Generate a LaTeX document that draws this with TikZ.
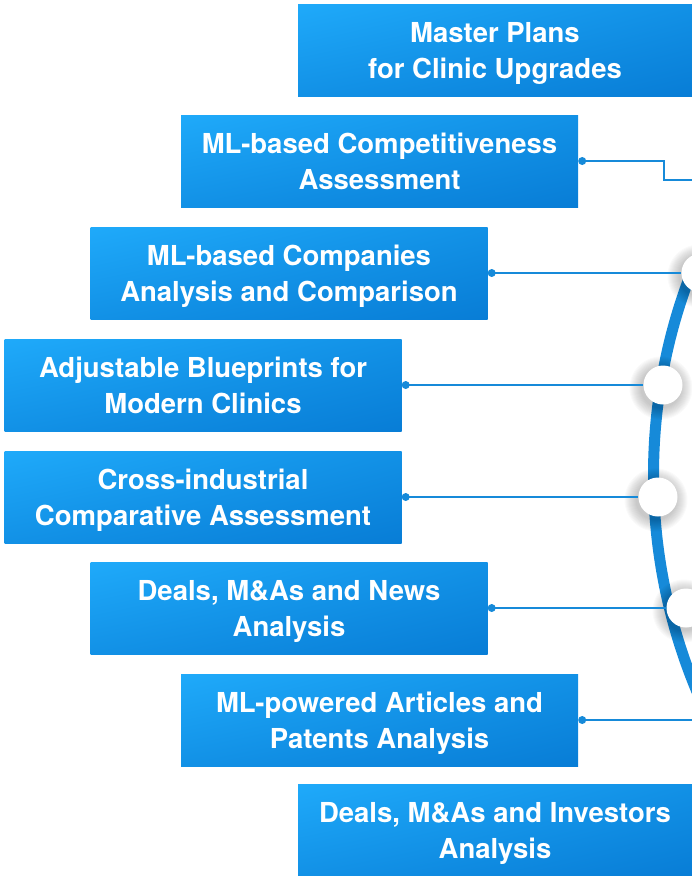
\documentclass[tikz,border=0pt]{standalone}
\usepackage{fontspec}
\setmainfont{TeX Gyre Heros}
\usetikzlibrary{calc,shadings}
\definecolor{lite}{RGB}{31,170,250}
\definecolor{mid}{RGB}{18,145,230}
\definecolor{dark}{RGB}{8,125,214}
\definecolor{arcblue}{RGB}{22,138,217}
\tikzset{
  box/.style={rectangle, shade, minimum width=397pt, minimum height=92pt, inner sep=0pt,
    upper left=lite, upper right=mid, lower left=mid, lower right=dark,
    text=white, font=\fontsize{27.5}{36}\selectfont\bfseries, align=center,
    text height=56pt, text depth=0pt},
  conn/.style={draw=arcblue, line width=2pt},
  dotc/.style={circle, fill=arcblue, inner sep=0pt, minimum size=8pt},
  knob/.style={circle, fill=white, inner sep=0pt, minimum size=39pt},
}
\begin{document}
\begin{tikzpicture}[x=1pt,y=-1pt]
\useasboundingbox (0,0) rectangle (692,876);
\clip (0,0) rectangle (692,876);
% boxes
\node[box, minimum width=394pt] (b1) at (495,50) {Master Plans\\for Clinic Upgrades};
\node[box] (b2) at (379.5,161) {ML-based Competitiveness\\Assessment};
\node[box] (b3) at (289,273) {ML-based Companies\\Analysis and Comparison};
\node[box] (b4) at (203,385) {Adjustable Blueprints for\\Modern Clinics};
\node[box] (b5) at (203,497) {Cross-industrial\\Comparative Assessment};
\node[box] (b6) at (289,608) {Deals, M\&As and News\\Analysis};
\node[box] (b7) at (379.5,720) {ML-powered Articles and\\Patents Analysis};
\node[box, minimum width=394pt] (b8) at (495,830) {Deals, M\&As and Investors\\Analysis};
% big arc
\draw[arcblue, line width=11pt] (1213.5,475) circle[radius=560pt];
% knob positions
\coordinate (p3) at (701,273);
\coordinate (p4) at (663,385);
\coordinate (p5) at (658,497);
\coordinate (p6) at (686,608);
\coordinate (e2) at (692,180);
\coordinate (e7) at (692,720);
% soft shadows
\foreach \p in {p3,p4,p5,p6}{
  \foreach \i in {1,...,12}{
    \fill[black, opacity=0.02] ($(\p)+(-2,3)$) circle[radius={(19.5+\i)*1pt}];
  }
}
% knobs
\node[knob] (k3) at (p3) {};
\node[knob] (k4) at (p4) {};
\node[knob] (k5) at (p5) {};
\node[knob] (k6) at (p6) {};
% dots
\node[dotc] (d2) at ($(b2.east)+(4,0)$) {};
\node[dotc] (d3) at ($(b3.east)+(4,0)$) {};
\node[dotc] (d4) at ($(b4.east)+(4,0)$) {};
\node[dotc] (d5) at ($(b5.east)+(4,0)$) {};
\node[dotc] (d6) at ($(b6.east)+(4,0)$) {};
\node[dotc] (d7) at ($(b7.east)+(4,0)$) {};
% connectors
\draw[conn] (d2.center) -- ++(82,0) |- (e2);
\draw[conn] (d3.center) -- (k3);
\draw[conn] (d4.center) -- (k4);
\draw[conn] (d5.center) -- (k5);
\draw[conn] (d6.center) -- (k6);
\draw[conn] (d7.center) -- (e7);
\end{tikzpicture}
\end{document}
